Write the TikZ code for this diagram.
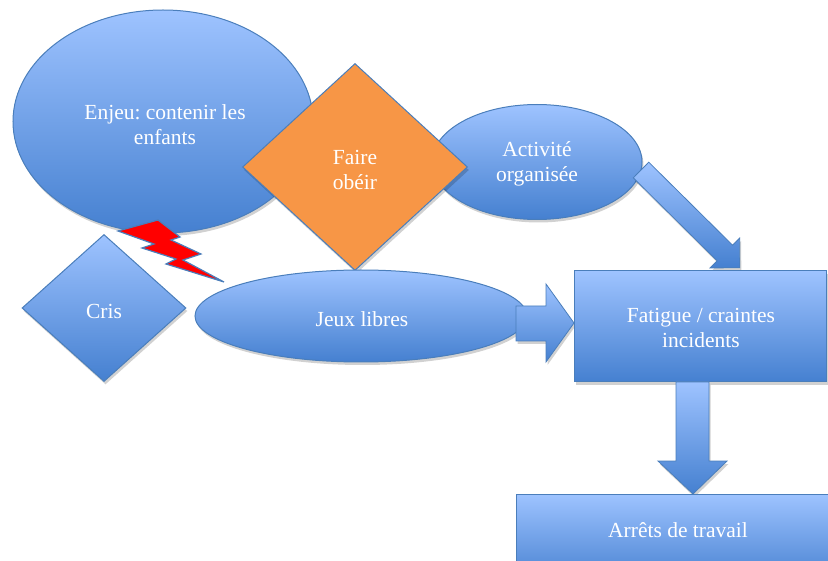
\documentclass[tikz,border=0pt]{standalone}
\usepackage{fontspec}
\setmainfont{Liberation Serif}
\frenchspacing
\usetikzlibrary{shapes.geometric,shadows}
\definecolor{bl}{HTML}{4A7EBB}
\definecolor{bltop}{HTML}{9EC3FF}
\definecolor{blbot}{HTML}{4580D0}
\definecolor{org}{HTML}{F79646}
\tikzset{
  shd/.style={drop shadow={shadow xshift=1.5pt, shadow yshift=-3pt, opacity=0.18, fill=black}},
  blueshape/.style={draw=bl, line width=1pt, top color=bltop, bottom color=blbot, inner sep=0pt, shd},
  orangeshape/.style={draw=bl, line width=1pt, fill=org, inner sep=0pt, shd},
  lbl/.style={text=white, align=center, font=\fontsize{21.5}{25}\selectfont, inner sep=0pt},
  blockarrow/.style={draw=bl, line width=0.8pt, top color=bltop, bottom color=blbot, shd},
  bolt/.style={draw=bl, line width=1.2pt, fill=red, line join=miter}
}
\begin{document}
\begin{tikzpicture}[x=1pt,y=-1pt]
\useasboundingbox (0,0) rectangle (828,561);
% big ellipse
\node[blueshape, ellipse, minimum width=300, minimum height=223] (enjeu) at (163,121.5) {};
\node[lbl] (enjeuT) at (165,125) {Enjeu: contenir les\\enfants};
% lightning bolt
\path[bolt] (118,231) -- (158,220) -- (180,237) -- (171,240) -- (201,254) -- (183,260) -- (224,282)
  -- (166,264) -- (176,259) -- (142,248) -- (154,244) -- cycle;
% Activite
\node[blueshape, ellipse, minimum width=210, minimum height=115] (activ) at (537,162) {};
\node[lbl] (activT) at (537,164) {Activité\\organisée};
% diagonal arrow
\begin{scope}[shift={(641,170)}, rotate=-44.7]
  \path[blockarrow] (0,-11) -- (118,-11) -- (118,-21) -- (139,0) -- (118,21) -- (118,11) -- (0,11) -- cycle;
\end{scope}
% Faire obeir
\node[orangeshape, diamond, minimum width=225, minimum height=207] (faire) at (355,167) {};
\node[lbl] (faireT) at (355,170) {Faire\\obéir};
% Cris
\node[blueshape, diamond, minimum width=164, minimum height=147] (cris) at (104,308) {};
\node[lbl] (crisT) at (104,311) {Cris};
% Jeux libres
\node[blueshape, ellipse, minimum width=332, minimum height=92] (jeux) at (361,316) {};
\node[lbl] (jeuxT) at (362,319) {Jeux libres};
% right arrow
\path[blockarrow] (516,306) -- (546,306) -- (546,284) -- (574,323) -- (546,362) -- (546,341) -- (516,341) -- cycle;
% Fatigue
\node[blueshape, rectangle, minimum width=252, minimum height=111] (fatigue) at (700,326.5) {};
\node[lbl] (fatigueT) at (701,328) {Fatigue / craintes\\incidents};
% down arrow
\path[blockarrow] (676,382) -- (709,382) -- (709,461) -- (727,461) -- (693,494) -- (658,461) -- (676,461) -- cycle;
% Arrets
\node[blueshape, rectangle, minimum width=314, minimum height=90] (arrets) at (673,539) {};
\node[lbl] (arretsT) at (678,530) {Arrêts de travail};
\end{tikzpicture}
\end{document}
